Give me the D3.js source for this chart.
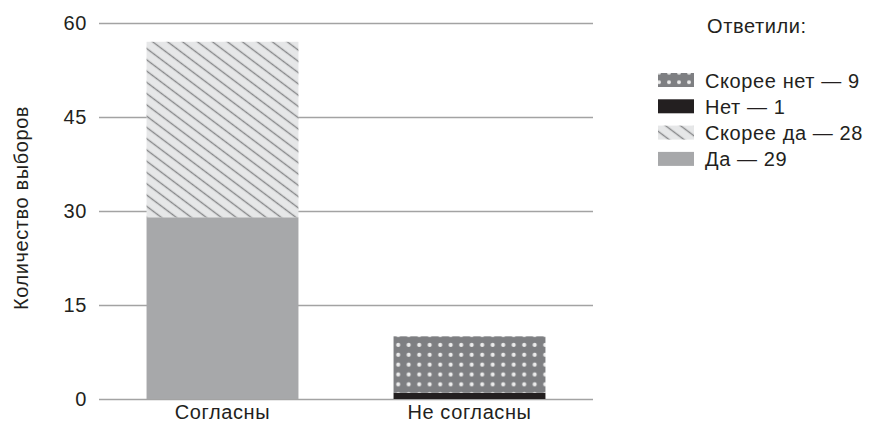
<!DOCTYPE html>
<html>
<head>
<meta charset="utf-8">
<script src="https://cdn.jsdelivr.net/npm/d3@7"></script>
<style>
  html, body { margin: 0; padding: 0; background: #fff; }
  svg { display: block; font-family: "Liberation Sans", Arial, sans-serif; }
</style>
</head>
<body>
<svg id="chart" width="871" height="423"></svg>
<script>
// Ответы, сгруппированные по позиции
const categories = ["Согласны", "Не согласны"];
const seriesKeys = ["Да", "Скорее да", "Нет", "Скорее нет"];
const yesValues = [29, 0];
const ratherYesValues = [28, 0];
const noValues = [0, 1];
const ratherNoValues = [0, 9];
const yTicks = [0, 15, 30, 45, 60];
const legendOrder = ["Скорее нет", "Нет", "Скорее да", "Да"];
const legendTotals = { "Скорее нет": 9, "Нет": 1, "Скорее да": 28, "Да": 29 };

const rows = categories.map((c, i) => ({
  category: c,
  "Да": yesValues[i],
  "Скорее да": ratherYesValues[i],
  "Нет": noValues[i],
  "Скорее нет": ratherNoValues[i]
}));

const svg = d3.select("#chart");
const textColor = "#231f20";
const fontSize = 20;
const tracking = "0.6px";

const x = d3.scaleBand().domain(categories).range([99, 593])
  .paddingInner(0.385).paddingOuter(0.1925);
const y = d3.scaleLinear().domain([0, 60]).range([399, 23]);

// Заливки: штриховка и точки
const defs = svg.append("defs");
const hatch = defs.append("pattern").attr("id", "hatch")
  .attr("patternUnits", "userSpaceOnUse").attr("width", 12).attr("height", 9)
  .attr("patternTransform", "rotate(37)");
hatch.append("rect").attr("width", 12).attr("height", 9).attr("fill", "#e6e7e8");
hatch.append("line").attr("x1", 0).attr("x2", 12).attr("y1", 4.5).attr("y2", 4.5)
  .attr("stroke", "#87888a").attr("stroke-width", 1.4);

const dots = defs.append("pattern").attr("id", "dots")
  .attr("patternUnits", "userSpaceOnUse").attr("width", 10.5).attr("height", 9.85)
  .attr("x", 393).attr("y", 5.2);
dots.append("rect").attr("width", 10.5).attr("height", 9.85).attr("fill", "#7e7f82");
dots.append("circle").attr("cx", 5.2).attr("cy", 4.9).attr("r", 2.1).attr("fill", "#ececec");

const dotsLegend = defs.append("pattern").attr("id", "dotsLegend")
  .attr("patternUnits", "userSpaceOnUse").attr("width", 10).attr("height", 9.5)
  .attr("x", 656).attr("y", 71);
dotsLegend.append("rect").attr("width", 10).attr("height", 9.5).attr("fill", "#7e7f82");
dotsLegend.append("circle").attr("cx", 5).attr("cy", 4.75).attr("r", 2).attr("fill", "#ececec");

const fills = {
  "Да": "#a7a8aa",
  "Скорее да": "url(#hatch)",
  "Нет": "#231f20",
  "Скорее нет": "url(#dots)"
};
const legendFills = Object.assign({}, fills, { "Скорее нет": "url(#dotsLegend)" });

function styleText(sel) {
  sel.attr("fill", textColor).attr("font-size", fontSize)
    .attr("font-family", "Liberation Sans, Arial, sans-serif")
    .attr("letter-spacing", tracking);
}

// Сетка и подписи оси Y
const yAxis = d3.axisLeft(y).tickValues(yTicks).tickSize(0).tickPadding(12);
const gy = svg.append("g").attr("transform", "translate(99,0)").call(yAxis);
gy.select(".domain").remove();
gy.selectAll(".tick text").call(styleText);
gy.selectAll(".tick").append("line")
  .attr("x1", 0).attr("x2", 593 - 99)
  .attr("stroke", "#a3a3a3").attr("stroke-width", 1.4);

// Столбцы с накоплением
const stacked = d3.stack().keys(seriesKeys)(rows);
svg.append("g").selectAll("g").data(stacked).join("g")
  .attr("fill", d => fills[d.key])
  .selectAll("rect").data(d => d.filter(p => p[1] > p[0])).join("rect")
  .attr("x", d => x(d.data.category))
  .attr("width", x.bandwidth())
  .attr("y", d => y(d[1]))
  .attr("height", d => y(d[0]) - y(d[1]));

// Подписи категорий
const xAxis = d3.axisBottom(x).tickSize(0).tickPadding(7);
const gx = svg.append("g").attr("transform", "translate(0,398)").call(xAxis);
gx.select(".domain").remove();
gx.selectAll(".tick text").call(styleText);

// Заголовок оси Y
svg.append("text")
  .attr("transform", "translate(28,208) rotate(-90)")
  .attr("text-anchor", "middle")
  .call(styleText)
  .text("Количество выборов");

// Легенда
svg.append("text").attr("x", 707).attr("y", 33)
  .call(styleText).text("Ответили:");

const legend = svg.append("g").selectAll("g").data(legendOrder).join("g")
  .attr("transform", (d, i) => `translate(658,${73 + i * 26.3})`);
legend.append("rect").attr("width", 36).attr("height", 14)
  .attr("fill", d => legendFills[d]);
legend.append("text").attr("x", 47).attr("y", 14.5)
  .call(styleText)
  .text(d => `${d} — ${legendTotals[d]}`);
</script>
</body>
</html>
